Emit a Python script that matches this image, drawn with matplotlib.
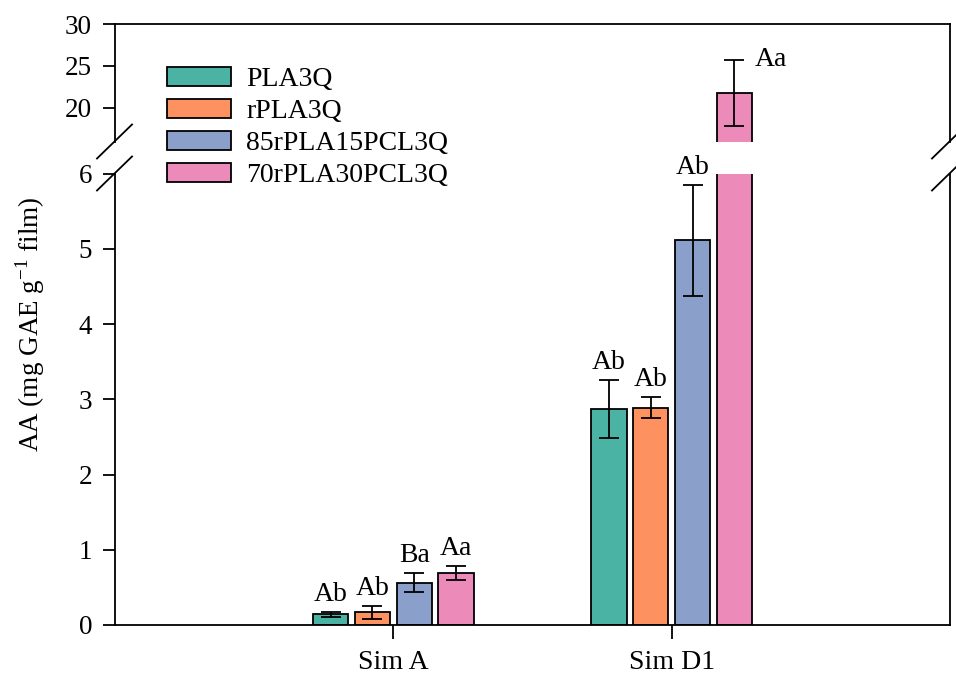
import matplotlib
matplotlib.use("Agg")
import matplotlib.pyplot as plt
from matplotlib.lines import Line2D
from matplotlib.patches import Patch
import numpy as np

plt.rcParams['font.family'] = ['Liberation Serif', 'DejaVu Serif']

groups = ["Sim A", "Sim D1"]
series = ["PLA3Q", "rPLA3Q", "85rPLA15PCL3Q", "70rPLA30PCL3Q"]
colors = ["#4bb3a3", "#fe9160", "#8b9fcb", "#ec8aba"]
values = {
    "PLA3Q": [0.14, 2.87],
    "rPLA3Q": [0.17, 2.89],
    "85rPLA15PCL3Q": [0.56, 5.11],
    "70rPLA30PCL3Q": [0.69, 21.8],
}
errors = {
    "PLA3Q": [0.03, 0.39],
    "rPLA3Q": [0.085, 0.135],
    "85rPLA15PCL3Q": [0.125, 0.74],
    "70rPLA30PCL3Q": [0.09, 3.95],
}
letters = {
    "PLA3Q": ["Ab", "Ab"],
    "rPLA3Q": ["Ab", "Ab"],
    "85rPLA15PCL3Q": ["Ba", "Ab"],
    "70rPLA30PCL3Q": ["Aa", "Aa"],
}

W, H = 956, 675
fig = plt.figure(figsize=(W / 100, H / 100), dpi=100)

def fx(px):
    return px / W

def fy(py):
    return 1 - py / H

left, right = 115, 950
ax_top = fig.add_axes([fx(left), fy(141.5), fx(right - left), fy(24) - fy(141.5)])
ax_bot = fig.add_axes([fx(left), fy(625), fx(right - left), fy(173.5) - fy(625)])

x = np.arange(1, len(groups) + 1)
step = 0.15
width = 0.127
fs_tick = 19.5
fs_lab = 20

for ax in (ax_top, ax_bot):
    for i, s in enumerate(series):
        pos = x + (i - 1.5) * step
        ax.bar(pos, values[s], width, color=colors[i], edgecolor="black",
               linewidth=1.3, zorder=2)
        ax.errorbar(pos, values[s], yerr=errors[s], fmt="none", ecolor="black",
                    elinewidth=1.3, capsize=7, capthick=1.3, zorder=3)
    ax.set_xlim(0, 3)
    for sp in ax.spines.values():
        sp.set_linewidth(1.3)

ax_top.set_ylim(16, 30)
ax_top.set_yticks([20, 25, 30])
ax_bot.set_ylim(0, 6.0)
ax_bot.set_yticks([0, 1, 2, 3, 4, 5, 6])

ax_top.spines['bottom'].set_visible(False)
ax_bot.spines['top'].set_visible(False)
ax_top.tick_params(axis='x', bottom=False, labelbottom=False)
ax_bot.set_xticks(x)
ax_bot.set_xticklabels(groups, fontsize=fs_lab)
for ax in (ax_top, ax_bot):
    ax.tick_params(axis='y', direction='out', length=9, width=1.3, labelsize=fs_tick, pad=7.5)
ax_bot.tick_params(axis='x', direction='out', length=10, width=1.3, pad=8)

# letters
for i, s in enumerate(series):
    pos = x + (i - 1.5) * step
    for j in range(len(groups)):
        v = values[s][j] + errors[s][j]
        lab = letters[s][j]
        if v > 6:
            ax_top.annotate(lab, (pos[j], v), xytext=(15, 0), textcoords="offset points",
                            ha="left", va="center", fontsize=fs_lab)
        else:
            ax_bot.annotate(lab, (pos[j], v), xytext=(0, 8), textcoords="offset points",
                            ha="center", va="baseline", fontsize=fs_lab)

ax_bot.set_ylabel("AA (mg GAE g$^{\\mathregular{-1}}$ film)", fontsize=fs_tick)
ax_bot.yaxis.set_label_coords(-0.082, 0.667)

# break marks
for xp in (left, right):
    for yp in (141.5, 173.5):
        fig.add_artist(Line2D([fx(xp - 18), fx(xp + 17)], [fy(yp + 17), fy(yp - 17)],
                              color="black", linewidth=1.3, transform=fig.transFigure,
                              clip_on=False))

handles = [Patch(facecolor=c, edgecolor="black", linewidth=1.3) for c in colors]
fig.legend(handles, series, loc="upper left", bbox_to_anchor=(fx(156), fy(56)),
           frameon=False, fontsize=fs_lab, handlelength=2.3, handleheight=0.65,
           labelspacing=0.25, handletextpad=0.55, borderaxespad=0)

fig.savefig("out.png", dpi=100)
